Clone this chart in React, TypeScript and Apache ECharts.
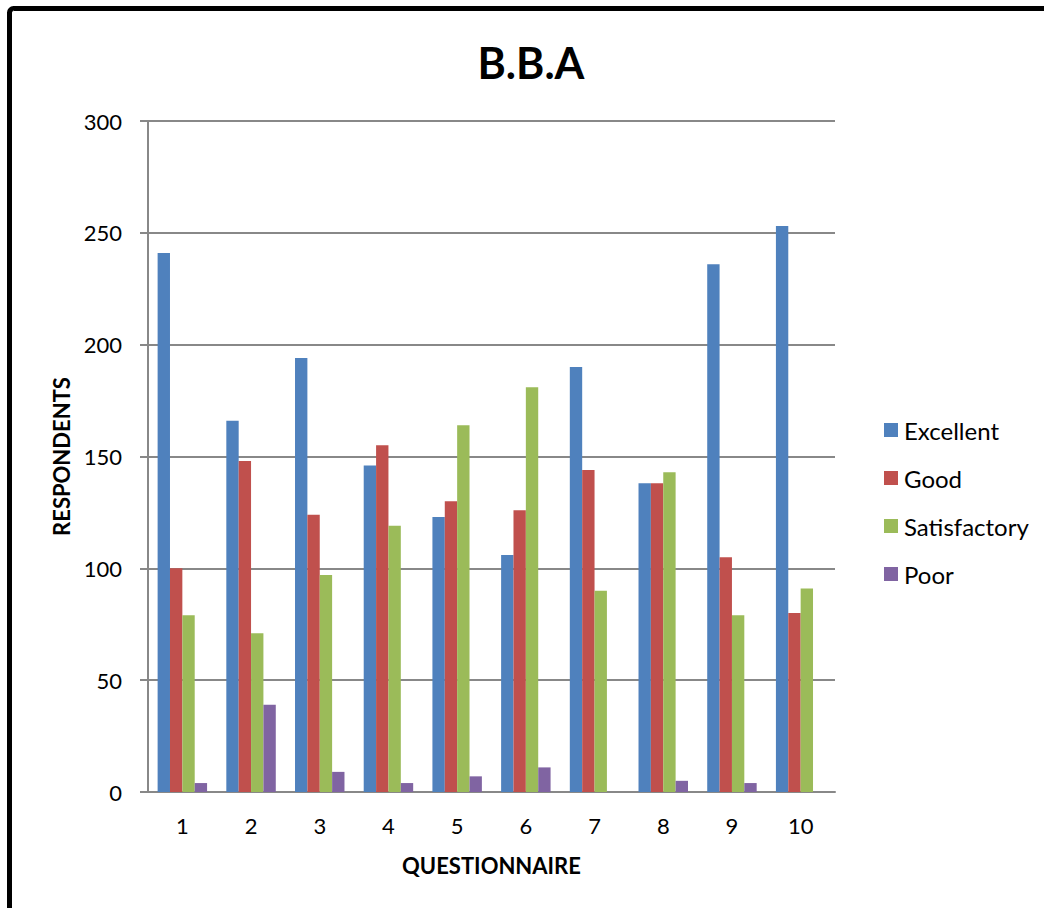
import React, { useEffect, useRef } from "react";
import * as echarts from "echarts";

const categories = ["1", "2", "3", "4", "5", "6", "7", "8", "9", "10"];
const excellent = [241, 166, 194, 146, 123, 106, 190, 138, 236, 253];
const good = [100, 148, 124, 155, 130, 126, 144, 138, 105, 80];
const satisfactory = [79, 71, 97, 119, 164, 181, 90, 143, 79, 91];
const poor = [4, 39, 9, 4, 7, 11, 0, 5, 4, 0];
const seriesNames = ["Excellent", "Good", "Satisfactory", "Poor"];
const colors = ["#4F81BD", "#C0504D", "#9BBB59", "#8064A2"];

const FONT = "Lato, 'Open Sans', sans-serif";

export default function App() {
  const ref = useRef<HTMLDivElement>(null);
  useEffect(() => {
    if (!ref.current) return;
    const chart = echarts.init(ref.current, undefined, { renderer: "svg" });
    const data = [excellent, good, satisfactory, poor];
    chart.setOption({
      animation: false,
      backgroundColor: "#ffffff",
      color: colors,
      graphic: [
        {
          type: "rect",
          shape: { x: 9.5, y: 8.5, width: 1200, height: 1100, r: 4 },
          style: { fill: "none", stroke: "#000", lineWidth: 5 },
          silent: true,
        },
        {
          type: "text",
          x: 531,
          y: 62,
          style: {
            text: "B.B.A",
            fontFamily: FONT,
            fontSize: 43,
            fontWeight: "bold",
            fill: "#000",
            textAlign: "center",
            textVerticalAlign: "middle",
          },
        },
      ],
      legend: {
        orient: "vertical",
        left: 879,
        top: 411,
        itemWidth: 14,
        itemHeight: 14,
        itemGap: 20,
        icon: "rect",
        textStyle: { fontFamily: FONT, fontSize: 24, lineHeight: 28, color: "#000", padding: [0, 0, 0, 1] },
        data: seriesNames,
      },
      grid: { left: 148, right: 209, top: 121, bottom: 116 },
      xAxis: {
        type: "category",
        data: categories,
        name: "QUESTIONNAIRE",
        nameLocation: "middle",
        nameGap: 62,
        nameTextStyle: { fontFamily: FONT, fontSize: 22, fontWeight: "bold", color: "#000" },
        axisLine: { lineStyle: { color: "#888", width: 2 } },
        axisTick: { show: false },
        axisLabel: { fontFamily: FONT, fontSize: 22, color: "#000", margin: 22 },
      },
      yAxis: {
        type: "value",
        min: 0,
        max: 300,
        interval: 50,
        name: "RESPONDENTS",
        nameLocation: "middle",
        nameGap: 76,
        nameTextStyle: { fontFamily: FONT, fontSize: 22, fontWeight: "bold", color: "#000" },
        axisLine: { show: true, lineStyle: { color: "#888", width: 2 } },
        axisTick: { show: true, length: 8, lineStyle: { color: "#888", width: 2 } },
        axisLabel: { fontFamily: FONT, fontSize: 22, color: "#000", margin: 26 },
        splitLine: { lineStyle: { color: "#888", width: 2 } },
      },
      series: seriesNames.map((name, i) => ({
        name,
        type: "bar",
        data: data[i],
        barGap: "0%",
        barCategoryGap: "28%",
        itemStyle: { color: colors[i] },
      })),
    });
    return () => chart.dispose();
  }, []);
  return (
    <div
      ref={ref}
      style={{ position: "fixed", left: 0, top: 0, width: 1044, height: 908 }}
    />
  );
}
